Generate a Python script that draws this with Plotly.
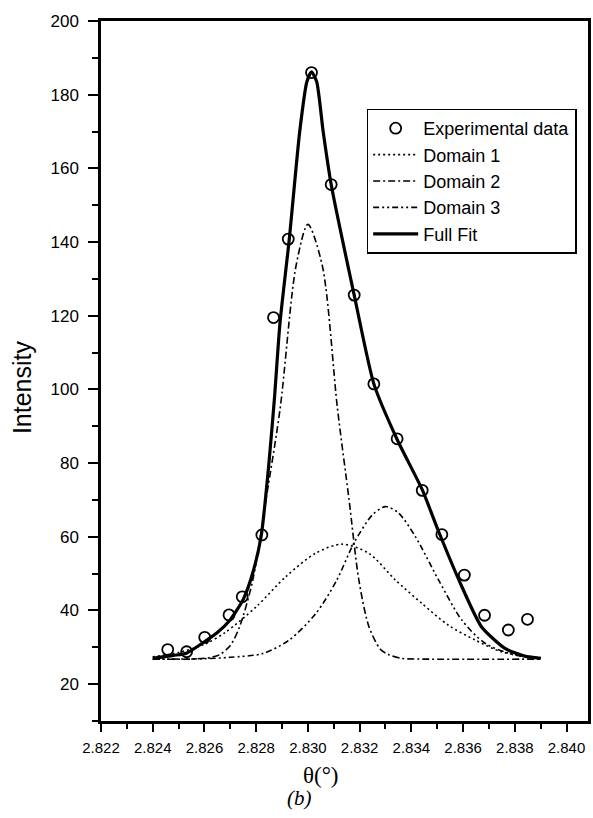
import plotly.graph_objects as go

# ---- data ----
exp_x = [2.82458, 2.82531, 2.82601, 2.82695, 2.82746, 2.82822, 2.82867, 2.82924,
         2.83014, 2.83090, 2.83179, 2.83255, 2.83345, 2.83442, 2.83518, 2.83605,
         2.83683, 2.83775, 2.83849]
exp_y = [29.4, 28.8, 32.7, 38.8, 43.7, 60.5, 119.5, 140.8,
         186.0, 155.6, 125.6, 101.5, 86.6, 72.6, 60.6, 49.6,
         38.7, 34.7, 37.6]

d1_x = [2.8240, 2.8250, 2.8260, 2.8268, 2.8280, 2.82915, 2.83031, 2.83133, 2.83236,
        2.83338, 2.83441, 2.83543, 2.83646, 2.83748, 2.8385, 2.8390]
d1_y = [27.4, 28.6, 30.8, 34.0, 41.0, 49.2, 55.6, 58.0, 55.5,
        48.3, 41.9, 36.0, 32.0, 28.8, 27.6, 27.2]

d2_x = [2.8240, 2.8255, 2.8262, 2.82659, 2.8270, 2.82736, 2.82787, 2.82838, 2.82893,
        2.82954, 2.8300, 2.83056, 2.83114, 2.83159, 2.83197, 2.83236, 2.8328,
        2.83313, 2.8336, 2.8345, 2.8390]
d2_y = [26.8, 26.8, 27.2, 28.0, 30.5, 35.6, 48.3, 70.1, 95.0,
        133.5, 144.8, 133.5, 95.0, 70.1, 48.3, 35.6, 29.5,
        28.0, 27.0, 26.8, 26.8]

d3_x = [2.8240, 2.8260, 2.8270, 2.82825, 2.82928, 2.83031, 2.8311, 2.83178, 2.8325,
        2.8330, 2.8335, 2.83415, 2.83505, 2.83595, 2.83685, 2.8380, 2.8390]
d3_y = [26.8, 26.9, 27.3, 28.3, 32.0, 39.2, 48.0, 58.3, 66.0,
        68.2, 66.5, 60.1, 48.3, 37.4, 31.1, 27.9, 27.0]

fit_x = [2.8240, 2.8248, 2.8253, 2.8260, 2.8265, 2.8270, 2.8275, 2.8279, 2.8282,
         2.82848, 2.82870, 2.82892, 2.82928, 2.82968, 2.82996, 2.83014, 2.83034,
         2.83059, 2.83090, 2.83179, 2.83255, 2.83345, 2.83442, 2.83505, 2.83595,
         2.83671, 2.83762, 2.83838, 2.8390]
fit_y = [27.0, 27.8, 28.4, 31.5, 34.0, 37.5, 43.0, 51.0, 60.5,
         79.0, 97.0, 118.0, 140.8, 169.8, 183.5, 186.2, 183.5,
         170.0, 155.6, 125.6, 101.5, 86.4, 72.8, 61.5, 46.5,
         35.6, 29.7, 27.6, 27.0]

x_ticks = [2.822, 2.824, 2.826, 2.828, 2.830, 2.832, 2.834, 2.836, 2.838, 2.840]
x_tick_text = ["2.822", "2.824", "2.826", "2.828", "2.830", "2.832", "2.834", "2.836", "2.838", "2.840"]
y_ticks = [20, 40, 60, 80, 100, 120, 140, 160, 180, 200]

fig = go.Figure()
fig.add_trace(go.Scatter(x=d1_x, y=d1_y, mode="lines", name="Domain 1", legendrank=2,
                         line=dict(color="black", width=1.6, dash="2px,3px", shape="spline", smoothing=0.8)))
fig.add_trace(go.Scatter(x=d2_x, y=d2_y, mode="lines", name="Domain 2", legendrank=3,
                         line=dict(color="black", width=1.6, dash="7px,3px,2px,3px", shape="spline", smoothing=0.8)))
fig.add_trace(go.Scatter(x=d3_x, y=d3_y, mode="lines", name="Domain 3", legendrank=4,
                         line=dict(color="black", width=1.6, dash="6px,3px,2px,3px,2px,3px", shape="spline", smoothing=0.8)))
fig.add_trace(go.Scatter(x=fit_x, y=fit_y, mode="lines", name="Full Fit", legendrank=5,
                         line=dict(color="black", width=3.2, shape="spline", smoothing=0.6)))
fig.add_trace(go.Scatter(x=exp_x, y=exp_y, mode="markers", name="Experimental data", legendrank=1,
                         marker=dict(symbol="circle-open", size=11, color="black", line=dict(width=1.8, color="black"))))

axis_font = dict(family="Arial, Liberation Sans, sans-serif", color="black")

fig.update_layout(
    width=593, height=818,
    margin=dict(l=101, r=2, t=21, b=97),
    paper_bgcolor="white", plot_bgcolor="white",
    showlegend=True,
    legend=dict(x=0.5455, y=0.875, xanchor="left", yanchor="top",
                bgcolor="white", bordercolor="black", borderwidth=1.5,
                font=dict(family="Arial, Liberation Sans, sans-serif", size=18, color="black"),
                itemwidth=45, tracegroupgap=0),
    xaxis=dict(range=[2.822, 2.84083], tickmode="array", tickvals=x_ticks, ticktext=x_tick_text,
               showgrid=False, zeroline=False, showline=True, linecolor="black", linewidth=2.5,
               mirror=True, ticks="outside", ticklen=8, tickwidth=2, tickcolor="black",
               ticklabelstandoff=3,
               tickfont=dict(size=15, **axis_font),
               minor=dict(dtick=0.001, tick0=2.822, ticks="outside", ticklen=5, tickwidth=2, tickcolor="black")),
    yaxis=dict(range=[10, 200], tickmode="array", tickvals=y_ticks,
               showgrid=False, zeroline=False, showline=True, linecolor="black", linewidth=2.5,
               mirror=True, ticks="outside", ticklen=10, tickwidth=2, tickcolor="black",
               ticklabelstandoff=6,
               tickfont=dict(size=17, **axis_font),
               minor=dict(dtick=10, tick0=10, ticks="outside", ticklen=6, tickwidth=2, tickcolor="black")),
    annotations=[
        dict(text="Intensity", xref="paper", yref="paper", x=-0.1606, y=0.4767,
             textangle=-90, showarrow=False, xanchor="center", yanchor="middle",
             font=dict(size=25, **axis_font)),
        dict(text="θ(°)", xref="paper", yref="paper", x=0.4516, y=-0.0776,
             showarrow=False, xanchor="center", yanchor="middle",
             font=dict(family="Liberation Serif, DejaVu Serif, serif", size=23, color="black")),
        dict(text="<i>(b)</i>", xref="paper", yref="paper", x=0.4067, y=-0.110,
             showarrow=False, xanchor="center", yanchor="middle",
             font=dict(family="Liberation Serif, DejaVu Serif, serif", size=21, color="black")),
    ],
)

fig.write_html("out.html")
